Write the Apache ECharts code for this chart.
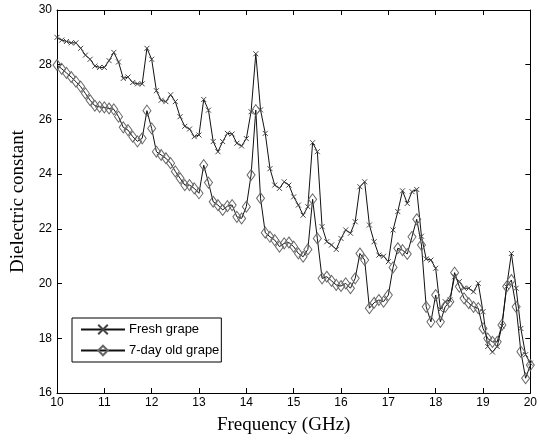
<!DOCTYPE html>
<html>
<head>
<meta charset="utf-8">
<script src="https://cdn.jsdelivr.net/npm/echarts@6/dist/echarts.min.js"></script>
<style>html,body{margin:0;padding:0;background:#fff}#c{width:540px;height:440px}</style>
</head>
<body>
<div id="c"></div>
<script>
var freq = [10.0,10.1,10.2,10.3,10.4,10.5,10.6,10.7,10.8,10.9,
11.0,11.1,11.2,11.3,11.4,11.5,11.6,11.7,11.8,11.9,
12.0,12.1,12.2,12.3,12.4,12.5,12.6,12.7,12.8,12.9,
13.0,13.1,13.2,13.3,13.4,13.5,13.6,13.7,13.8,13.9,
14.0,14.1,14.2,14.3,14.4,14.5,14.6,14.7,14.8,14.9,
15.0,15.1,15.2,15.3,15.4,15.5,15.6,15.7,15.8,15.9,
16.0,16.1,16.2,16.3,16.4,16.5,16.6,16.7,16.8,16.9,
17.0,17.1,17.2,17.3,17.4,17.5,17.6,17.7,17.8,17.9,
18.0,18.1,18.2,18.3,18.4,18.5,18.6,18.7,18.8,18.9,
19.0,19.1,19.2,19.3,19.4,19.5,19.6,19.7,19.8,19.9,
20.0];
var fresh = [29.0,28.9,28.85,28.8,28.8,28.6,28.35,28.2,27.95,27.9,
27.9,28.15,28.45,28.1,27.5,27.55,27.35,27.3,27.3,28.6,
28.2,27.05,26.7,26.65,26.9,26.65,26.1,25.75,25.65,25.37,
25.43,26.73,26.34,25.19,24.82,25.19,25.49,25.47,25.13,25.03,
25.3,26.28,28.4,26.35,25.49,24.2,23.6,23.48,23.72,23.6,
23.17,22.87,22.5,22.81,25.15,24.82,22.08,21.53,21.41,21.25,
21.65,21.96,21.84,22.26,23.54,23.72,22.14,21.53,21.04,21.0,
20.8,21.96,22.63,23.39,22.93,23.36,23.44,21.73,20.9,20.86,
20.56,19.05,19.34,19.4,20.25,20.07,19.83,19.83,19.7,20.01,
18.97,17.7,17.5,17.7,18.45,19.89,21.1,19.83,18.36,17.4,
17.09];
var aged = [27.99,27.85,27.7,27.55,27.38,27.2,26.95,26.7,26.5,26.46,
26.44,26.4,26.37,26.1,25.71,25.61,25.37,25.2,25.31,26.32,
25.67,24.82,24.7,24.58,24.4,24.1,23.85,23.6,23.6,23.48,
23.3,24.33,23.69,22.99,22.87,22.69,22.83,22.87,22.44,22.38,
22.81,23.97,26.34,23.12,21.86,21.71,21.59,21.35,21.47,21.5,
21.35,21.1,20.98,21.25,23.08,21.65,20.19,20.25,20.1,19.95,
19.91,20.01,19.83,20.19,21.1,20.86,19.1,19.3,19.4,19.34,
19.58,20.59,21.29,21.22,21.08,21.71,22.35,21.41,19.15,18.6,
19.58,18.6,19.15,19.34,20.4,19.89,19.46,19.28,19.15,19.1,
18.36,17.99,17.87,17.87,18.49,19.89,20.13,19.15,17.51,16.54,
17.02];
var seriesNames = ['Fresh grape', '7-day old grape'];
var xTitle = 'Frequency (GHz)';
var yTitle = 'Dielectric constant';

function pairs(xs, ys){ return xs.map(function(x,i){ return [x, ys[i]]; }); }

var chart = echarts.init(document.getElementById('c'), null, {renderer:'canvas'});
var tickFont = {fontFamily:'Liberation Sans', fontSize:12, color:'#000'};
var titleFont = {fontFamily:'Liberation Serif', fontSize:19, color:'#000'};
var axLine = {show:true, lineStyle:{color:'#000', width:1}};
var axTick = {show:true, inside:true, length:5, lineStyle:{color:'#000', width:1}};
chart.setOption({
  animation:false,
  backgroundColor:'#fff',
  grid:{left:57, right:5, top:10, bottom:47},
  legend:{
    orient:'vertical', left:72, top:318,
    data:seriesNames,
    borderColor:'#000', borderWidth:1, backgroundColor:'#fff',
    padding:[5,2,5,8], itemGap:8, itemWidth:44, itemHeight:12,
    textStyle:{fontFamily:'Liberation Sans', fontSize:13, color:'#000', padding:[0,0,0,-1]}
  },
  xAxis:[{
    type:'value', min:10, max:20, interval:1, position:'bottom',
    name:xTitle, nameLocation:'middle', nameGap:23,
    nameTextStyle:Object.assign({padding:[0,20,0,0]}, titleFont),
    axisLine:axLine, axisTick:axTick, splitLine:{show:false},
    axisLabel:Object.assign({margin:4}, tickFont)
  },{
    type:'value', min:10, max:20, interval:1, position:'top',
    axisLine:axLine, axisTick:axTick, splitLine:{show:false}, axisLabel:{show:false}
  }],
  yAxis:[{
    type:'value', min:16, max:30, interval:2, position:'left',
    name:yTitle, nameLocation:'middle', nameGap:27,
    nameTextStyle:titleFont,
    axisLine:axLine, axisTick:axTick, splitLine:{show:false},
    axisLabel:Object.assign({margin:5}, tickFont)
  },{
    type:'value', min:16, max:30, interval:2, position:'right',
    axisLine:axLine, axisTick:axTick, splitLine:{show:false}, axisLabel:{show:false}
  }],
  series:[{
    name:seriesNames[0], type:'line', data:pairs(freq, fresh),
    symbol:'path://M0,0L10,10M10,0L0,10', symbolSize:5,
    lineStyle:{color:'#111', width:1},
    itemStyle:{color:'rgba(0,0,0,0)', borderColor:'#444', borderWidth:1}
  },{
    name:seriesNames[1], type:'line', data:pairs(freq, aged),
    symbol:'diamond', symbolSize:[8,11],
    lineStyle:{color:'#111', width:1},
    itemStyle:{color:'rgba(0,0,0,0)', borderColor:'#666', borderWidth:1}
  }]
});
</script>
</body>
</html>
